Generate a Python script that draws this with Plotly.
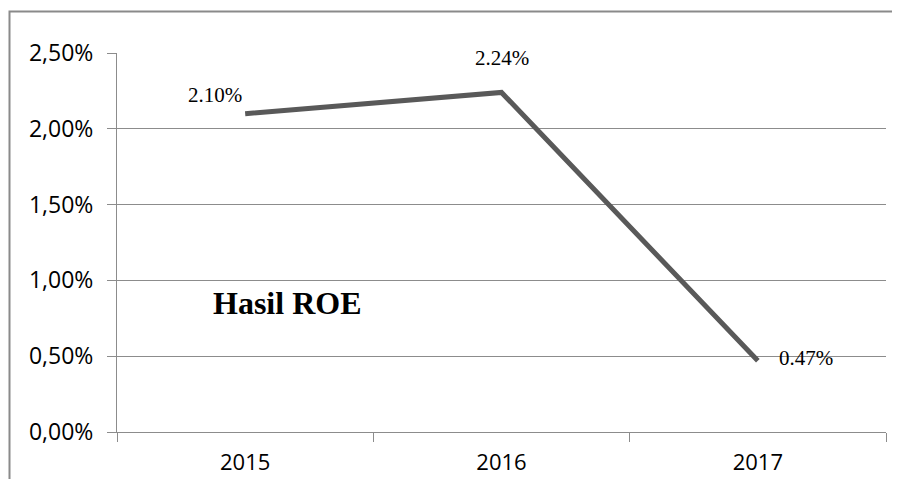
import plotly.graph_objects as go

years = ["2015", "2016", "2017"]
roe = [2.10, 2.24, 0.47]
y_max = 2.5
y_step = 0.5
title_text = "Hasil ROE"

# page body has an 8px margin; compensate so screen coords match reference
OFF = 8
W, H = 900 - OFF, 479 - OFF
L, R, T, B = 117 - OFF, 14, 53 - OFF, 47
pw, ph = W - L - R, H - T - B

def px_x(x):  # screen x -> paper
    return (x - OFF - L) / pw

def px_y(y):  # screen y -> paper
    return (H - B - (y - OFF)) / ph

fig = go.Figure()
fig.add_trace(go.Scatter(
    x=years, y=roe, mode="lines",
    line=dict(color="#595959", width=5),
    hoverinfo="skip", showlegend=False,
))

shifts = [(-30, 19), (0, 34), (48, 3)]
for i, (v, (dx, dy)) in enumerate(zip(roe, shifts)):
    fig.add_annotation(x=i, y=v, text=f"{v:.2f}%", showarrow=False,
                       xshift=dx, yshift=dy, xanchor="center", yanchor="middle",
                       font=dict(family="Liberation Serif", size=21, color="#000000"))

fig.add_annotation(xref="paper", yref="paper", x=px_x(287), y=px_y(303),
                   xanchor="center", yanchor="middle",
                   text=f"<b>{title_text}</b>", showarrow=False,
                   font=dict(family="Liberation Serif", size=32, color="#000000"))

# outer frame
fig.add_shape(type="rect", xref="paper", yref="paper",
              x0=px_x(9.5), x1=px_x(920),
              y0=px_y(500), y1=px_y(11.5),
              line=dict(color="#8a8a8a", width=2), layer="below")

fig.update_layout(
    width=W, height=H,
    margin=dict(l=L, r=R, t=T, b=B, autoexpand=False),
    paper_bgcolor="white", plot_bgcolor="white",
    separators=",.",
    font=dict(family="Open Sans", size=23, color="#000000"),
)
fig.update_xaxes(
    type="category", range=[-0.5, 2.5], automargin=False,
    showgrid=False, zeroline=False,
    showline=True, linecolor="#8c8c8c", linewidth=1,
    ticks="outside", tickson="boundaries", ticklen=9, tickcolor="#8c8c8c",
    tickfont=dict(family="Open Sans", size=22, color="#000000"),
    ticklabelstandoff=11,
)
fig.update_yaxes(
    range=[0, y_max], tick0=0, dtick=y_step, tickformat=".2f", ticksuffix="%",
    automargin=False,
    showgrid=True, gridcolor="#8c8c8c", gridwidth=1, zeroline=False,
    showline=True, linecolor="#8c8c8c", linewidth=1,
    ticks="outside", ticklen=9, tickcolor="#8c8c8c",
    tickfont=dict(family="Open Sans", size=23, color="#000000"),
    ticklabelstandoff=9,
)

fig.write_html("out.html")
